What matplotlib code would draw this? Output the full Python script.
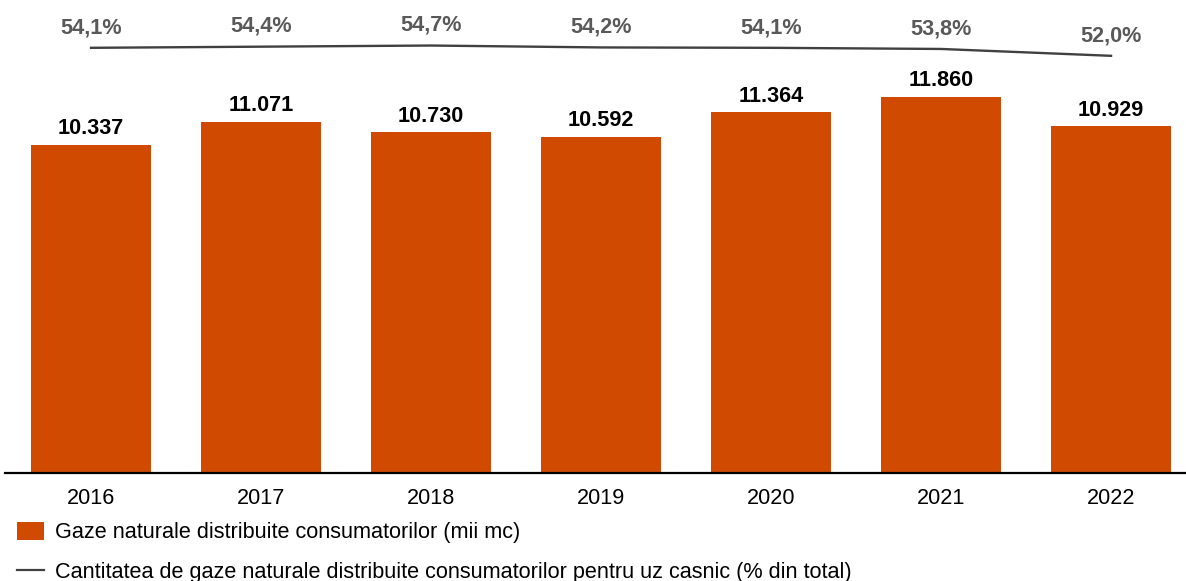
import numpy as np
from matplotlib import pyplot as plt
from matplotlib.patches import Patch
from matplotlib.lines import Line2D

plt.rcParams["font.family"] = ["Liberation Sans", "DejaVu Sans"]

years = ["2016", "2017", "2018", "2019", "2020", "2021", "2022"]
gaze = [10337, 11071, 10730, 10592, 11364, 11860, 10929]
casnic = [54.1, 54.4, 54.7, 54.2, 54.1, 53.8, 52.0]

bar_color = "#D04A02"
line_color = "#404040"
pct_color = "#595959"
fs = 15.6

fig = plt.figure(figsize=(11.86, 5.81), dpi=100)
ax = fig.add_axes([5 / 1186, 108 / 581, 1 - 5 / 1186, 473 / 581])

x = np.arange(len(years))
ax.bar(x, gaze, width=0.706, color=bar_color)
ax.set_xlim(-0.506, 6.441)
ax.set_ylim(0, 14900)

for xi, v in zip(x, gaze):
    txt = f"{v:,}".replace(",", ".")
    ax.annotate(txt, (xi, v), xytext=(0, 7.6), textcoords="offset points",
                ha="center", va="baseline", fontsize=fs, fontweight="bold",
                color="black")

ax2 = ax.twinx()
ax2.plot(x, casnic, color=line_color, lw=1.7)
ax2.set_ylim(-57.5, 66.65)
for xi, v in zip(x, casnic):
    txt = f"{v:.1f}%".replace(".", ",")
    ax2.annotate(txt, (xi, v), xytext=(0, 10.6), textcoords="offset points",
                 ha="center", va="baseline", fontsize=fs, fontweight="bold",
                 color=pct_color)

for a in (ax, ax2):
    for s in ("top", "right", "left"):
        a.spines[s].set_visible(False)
    a.set_yticks([])
ax2.spines["bottom"].set_visible(False)
ax.spines["bottom"].set_linewidth(1.6)
ax.set_xticks(x)
ax.set_xticklabels(years, fontsize=fs)
ax.tick_params(axis="x", length=0, pad=10.5)

handles = [
    Patch(facecolor=bar_color, edgecolor="none"),
    Line2D([0], [0], color=line_color, lw=1.6),
]
labels = [
    "Gaze naturale distribuite consumatorilor (mii mc)",
    "Cantitatea de gaze naturale distribuite consumatorilor pentru uz casnic (% din total)",
]
fig.legend(handles, labels, loc="upper left", bbox_to_anchor=(17 / 1186, 1 - 522 / 581),
           frameon=False, fontsize=fs, handlelength=1.25, handleheight=0.9,
           handletextpad=0.5, labelspacing=0.85, borderpad=0, borderaxespad=0)

fig.savefig("out.png", dpi=100)
